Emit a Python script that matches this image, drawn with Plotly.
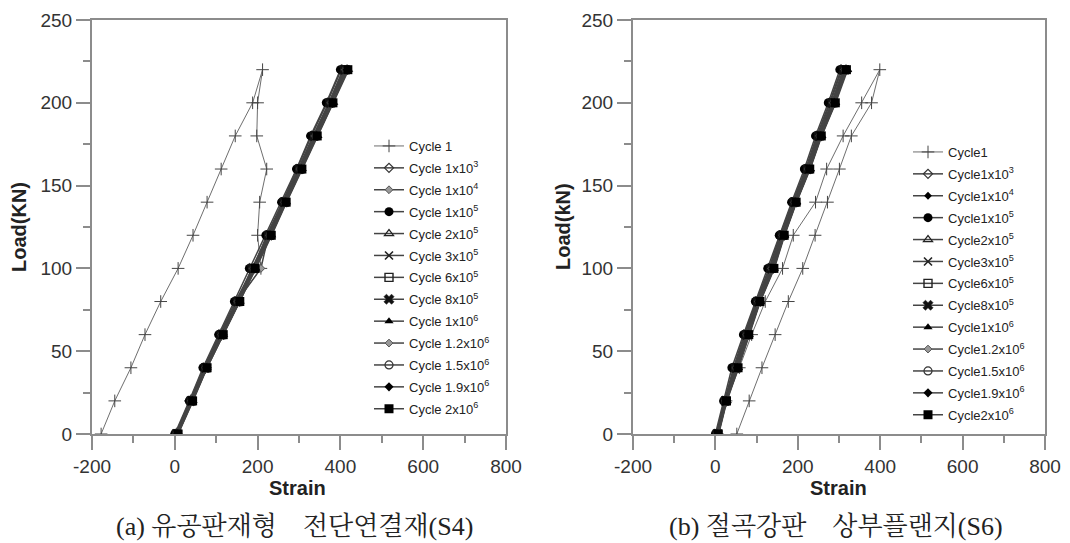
import plotly.graph_objects as go

# ---------------- data ----------------
loads = [0, 20, 40, 60, 80, 100, 120, 140, 160, 180, 200, 220]
loads_cycle1 = [0, 20, 40, 60, 80, 100, 120, 140, 160, 180, 200, 220,
                200, 180, 160, 140, 120, 100, 80, 60, 40, 20, 0]

# (a) S4
a_cycle1 = [-178, -145, -106, -72, -34, 8, 44, 78, 112, 146, 188, 212,
            200, 198, 222, 205, 200, 208, 150, 112, 74, 38, 4]
a_1e3 = [2, 36, 70, 108, 146, 190, 222, 260, 296, 330, 368, 402]
a_1e4 = [4, 38, 72, 110, 150, 208, 226, 262, 298, 334, 372, 406]
a_1e5 = [0, 35, 68, 106, 144, 180, 220, 258, 294, 328, 366, 400]
a_2e5 = [6, 42, 76, 114, 154, 192, 230, 266, 304, 340, 378, 414]
a_3e5 = [3, 39, 73, 111, 150, 186, 226, 263, 300, 336, 373, 408]
a_6e5 = [5, 40, 75, 113, 152, 188, 228, 265, 302, 338, 376, 411]
a_8e5 = [4, 39, 74, 112, 151, 187, 227, 264, 301, 337, 375, 410]
a_1e6 = [8, 44, 78, 118, 158, 196, 234, 270, 308, 346, 384, 420]
a_12e6 = [5, 41, 75, 114, 153, 190, 229, 266, 303, 339, 377, 412]
a_15e6 = [6, 42, 76, 115, 154, 191, 230, 267, 304, 341, 379, 414]
a_19e6 = [7, 43, 77, 116, 156, 193, 232, 268, 306, 343, 381, 416]
a_2e6 = [8, 43, 78, 117, 157, 194, 233, 269, 307, 344, 382, 418]

# (b) S6
b_cycle1 = [52, 82, 113, 145, 177, 212, 242, 272, 301, 330, 379, 399,
            355, 310, 270, 243, 189, 163, 121, 88, 58, 26, 5]
b_1e3 = [2, 22, 44, 70, 99, 130, 157, 187, 219, 246, 277, 305]
b_1e4 = [3, 23, 46, 72, 100, 132, 159, 189, 221, 248, 279, 307]
b_1e5 = [0, 20, 40, 68, 97, 127, 155, 185, 216, 243, 274, 302]
b_2e5 = [7, 27, 54, 80, 108, 141, 167, 196, 229, 257, 290, 319]
b_3e5 = [4, 24, 48, 74, 102, 134, 161, 190, 223, 250, 282, 310]
b_6e5 = [5, 25, 50, 76, 104, 136, 163, 192, 225, 252, 285, 313]
b_8e5 = [4, 24, 49, 75, 103, 135, 162, 191, 224, 251, 283, 311]
b_1e6 = [8, 28, 56, 82, 109, 143, 168, 197, 230, 258, 292, 321]
b_12e6 = [5, 25, 51, 77, 105, 137, 164, 193, 226, 253, 286, 314]
b_15e6 = [6, 26, 52, 78, 106, 139, 165, 194, 227, 255, 288, 316]
b_19e6 = [6, 26, 53, 79, 107, 140, 166, 195, 228, 256, 289, 317]
b_2e6 = [7, 27, 55, 81, 108, 142, 167, 196, 229, 257, 291, 318]

cycle_exps = ["1x10<sup>3</sup>", "1x10<sup>4</sup>", "1x10<sup>5</sup>", "2x10<sup>5</sup>",
              "3x10<sup>5</sup>", "6x10<sup>5</sup>", "8x10<sup>5</sup>", "1x10<sup>6</sup>",
              "1.2x10<sup>6</sup>", "1.5x10<sup>6</sup>", "1.9x10<sup>6</sup>", "2x10<sup>6</sup>"]

a_series = [a_1e3, a_1e4, a_1e5, a_2e5, a_3e5, a_6e5, a_8e5, a_1e6, a_12e6, a_15e6, a_19e6, a_2e6]
b_series = [b_1e3, b_1e4, b_1e5, b_2e5, b_3e5, b_6e5, b_8e5, b_1e6, b_12e6, b_15e6, b_19e6, b_2e6]

x_ticks = [-200, 0, 200, 400, 600, 800]
x_ticktext = ["-200", "0", "200", "400", "600", "800"]
y_ticks = [0, 50, 100, 150, 200, 250]

# ---------------- styles ----------------
LINE = "#444444"
AX = "#8c8c8c"
styles_a = [
    dict(symbol="diamond-open", size=7, color="#333", line=dict(width=1.2, color="#333")),
    dict(symbol="diamond", size=6, color="#999", line=dict(width=1, color="#555")),
    dict(symbol="circle", size=9, color="#000", line=dict(width=0, color="#000")),
    dict(symbol="triangle-up-open", size=8, color="#222", line=dict(width=1.2, color="#222")),
    dict(symbol="x-thin-open", size=8, color="#222", line=dict(width=1.6, color="#222")),
    dict(symbol="square-open", size=8, color="#222", line=dict(width=1.4, color="#222")),
    dict(symbol="x", size=9, color="#111", line=dict(width=0.5, color="#111")),
    dict(symbol="triangle-up", size=8, color="#000", line=dict(width=0, color="#000")),
    dict(symbol="diamond", size=6, color="#999", line=dict(width=1, color="#555")),
    dict(symbol="circle-open", size=8, color="#333", line=dict(width=1.2, color="#333")),
    dict(symbol="diamond", size=7, color="#000", line=dict(width=0, color="#000")),
    dict(symbol="square", size=9, color="#000", line=dict(width=0, color="#000")),
]
styles_b = [dict(s) for s in styles_a]
styles_b[1] = dict(symbol="diamond", size=6, color="#000", line=dict(width=0, color="#000"))

fig = go.Figure()

def add_panel(cyc1, series, styles, xa, ya, legend, prefix):
    fig.add_trace(go.Scatter(
        x=cyc1, y=loads_cycle1, mode="lines+markers", name=prefix + "1",
        xaxis=xa, yaxis=ya, legend=legend, legendgroup=legend + "c1",
        line=dict(color="#6e6e6e", width=1),
        marker=dict(symbol="cross-thin-open", size=9, color="#444", line=dict(width=1, color="#444")),
    ))
    for i, (vals, st) in enumerate(zip(series, styles)):
        fig.add_trace(go.Scatter(
            x=vals, y=loads, mode="lines+markers", name=prefix + cycle_exps[i],
            xaxis=xa, yaxis=ya, legend=legend, legendgroup=legend + str(i),
            line=dict(color=LINE, width=1.5),
            marker=st,
        ))

add_panel(a_cycle1, a_series, styles_a, "x", "y", "legend", "Cycle ")
add_panel(b_cycle1, b_series, styles_b, "x2", "y2", "legend2", "Cycle")

W, H = 1070, 543
def px(x):
    return x / W
def py(y):
    return 1 - y / H

axis_common = dict(
    showgrid=False, zeroline=False, showline=True, linecolor=AX, linewidth=2,
    mirror=True, ticks="outside", ticklen=14, tickwidth=1.5, tickcolor=AX,
    automargin=False,
    tickfont=dict(family="Liberation Sans, Arial, sans-serif", size=19, color="#333"),
)

xcommon = dict(axis_common, range=[-200, 800], tickvals=x_ticks, ticktext=x_ticktext,
               minor=dict(ticks="outside", ticklen=7, tickwidth=1.5, tickcolor=AX, dtick=100, tick0=0))
ycommon = dict(axis_common, range=[0, 250], tickvals=y_ticks,
               minor=dict(ticks="outside", ticklen=7, tickwidth=1.5, tickcolor=AX, dtick=25, tick0=0))

legend_font = dict(family="Liberation Sans, Arial, sans-serif", size=13, color="#222")
fig.update_layout(
    width=W, height=H,
    margin=dict(l=0, r=0, t=0, b=0),
    paper_bgcolor="white", plot_bgcolor="white",
    xaxis=dict(xcommon, domain=[px(92), px(506)], anchor="y"),
    yaxis=dict(ycommon, domain=[py(434), py(20)], anchor="x"),
    xaxis2=dict(xcommon, domain=[px(633), px(1045)], anchor="y2"),
    yaxis2=dict(ycommon, domain=[py(434), py(20)], anchor="x2"),
    legend=dict(x=px(369), y=py(131), xanchor="left", yanchor="top",
                bgcolor="rgba(0,0,0,0)", tracegroupgap=2, traceorder="grouped",
                font=legend_font),
    legend2=dict(x=px(908), y=py(137), xanchor="left", yanchor="top",
                 bgcolor="rgba(0,0,0,0)", tracegroupgap=2, traceorder="grouped",
                 font=legend_font),
    showlegend=True,
)

title_font = dict(family="Liberation Sans, Arial, sans-serif", size=20, color="#222")
cap_font = dict(family="Liberation Serif, 'Noto Serif CJK KR', 'Noto Sans CJK KR', serif", size=26, color="#222")
annos = [
    dict(text="<b>Strain</b>", x=px(297), y=py(488), font=title_font),
    dict(text="<b>Strain</b>", x=px(838), y=py(488), font=title_font),
    dict(text="<b>Load(KN)</b>", x=px(19), y=py(227), textangle=-90, font=title_font),
    dict(text="<b>Load(kN)</b>", x=px(563), y=py(227), textangle=-90, font=title_font),
    dict(text="(a) 유공판재형\u2003전단연결재(S4)", x=px(294), y=py(526), font=cap_font),
    dict(text="(b) 절곡강판\u2003상부플랜지(S6)", x=px(836), y=py(526), font=cap_font),
]
for a in annos:
    fig.add_annotation(xref="paper", yref="paper", xanchor="center", yanchor="middle",
                       showarrow=False, **a)

fig.write_html("out.html", config={"displayModeBar": False},
               post_script="document.body.style.margin='0px';")
